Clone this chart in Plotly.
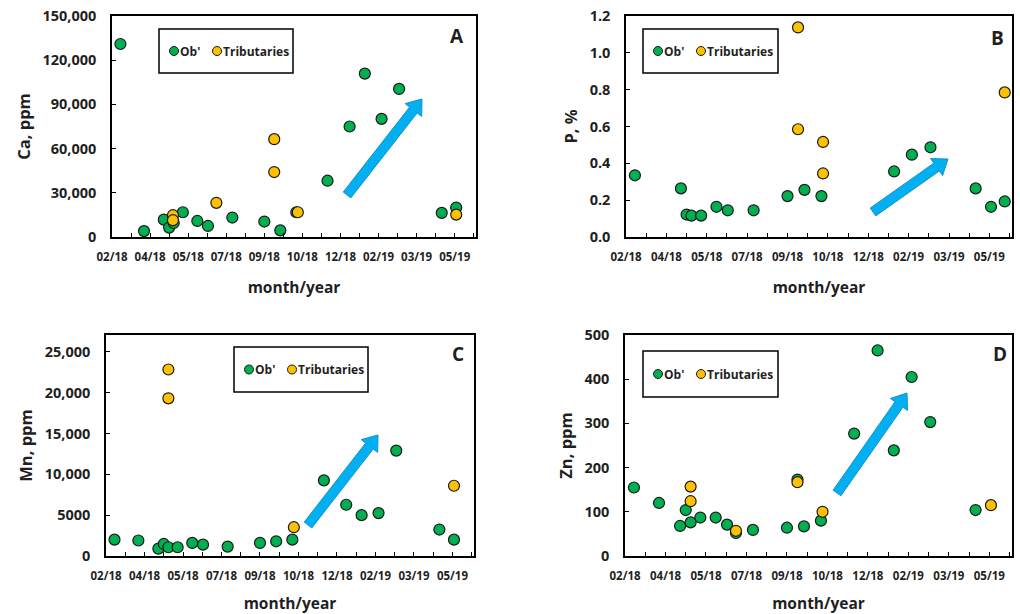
import plotly.graph_objects as go

W, H = 1020, 614
GREEN = "#00B050"
YELLOW = "#FFC000"
EDGE = "#1a1a1a"
ARROW_FILL = "#00B0F0"
ARROW_EDGE = "#1E8FD0"
TXT = "#1f1f1f"
FONT = "Open Sans"

# ---------------- data ----------------
# Panel A: Ca, ppm
ca_ob_dates = ["2018-03-02", "2018-04-02", "2018-04-28", "2018-05-05", "2018-05-11", "2018-05-23",
               "2018-06-11", "2018-06-25", "2018-07-27", "2018-09-07", "2018-09-28", "2018-10-19",
               "2018-11-29", "2018-12-28", "2019-01-17", "2019-02-08", "2019-03-03", "2019-04-28",
               "2019-05-17"]
ca_ob = [131000, 4000, 11800, 6400, 9500, 16800, 10900, 7500, 13200, 10500, 4500, 16800,
         38200, 75000, 110900, 80200, 100500, 16400, 20000]
ca_tr_dates = ["2018-05-10", "2018-05-10", "2018-07-06", "2018-09-20", "2018-09-20", "2018-10-21",
               "2019-05-17"]
ca_tr = [14800, 11400, 23200, 66400, 44100, 16800, 15200]

# Panel B: P, %
p_ob_dates = ["2018-03-02", "2018-04-28", "2018-05-05", "2018-05-11", "2018-05-23", "2018-06-11",
              "2018-06-25", "2018-07-27", "2018-09-07", "2018-09-28", "2018-10-19", "2019-01-17",
              "2019-02-08", "2019-03-03", "2019-04-28", "2019-05-17", "2019-06-03"]
p_ob = [0.335, 0.264, 0.122, 0.116, 0.116, 0.164, 0.145, 0.145, 0.222, 0.256, 0.222, 0.356,
        0.447, 0.487, 0.264, 0.164, 0.193]
p_tr_dates = ["2018-09-20", "2018-09-20", "2018-10-21", "2018-10-21", "2019-06-03"]
p_tr = [1.138, 0.585, 0.516, 0.345, 0.785]

# Panel C: Mn, ppm
mn_ob_dates = ["2018-03-02", "2018-04-02", "2018-04-28", "2018-05-05", "2018-05-11", "2018-05-23",
               "2018-06-11", "2018-06-25", "2018-07-27", "2018-09-07", "2018-09-28", "2018-10-19",
               "2018-11-29", "2018-12-28", "2019-01-17", "2019-02-08", "2019-03-03", "2019-04-28",
               "2019-05-17"]
mn_ob = [2000, 1900, 900, 1475, 1070, 1070, 1600, 1390, 1150, 1600, 1800, 2000,
         9260, 6270, 5000, 5250, 12900, 3240, 2000]
mn_tr_dates = ["2018-05-11", "2018-05-11", "2018-10-21", "2019-05-17"]
mn_tr = [22830, 19300, 3525, 8600]

# Panel D: Zn, ppm
zn_ob_dates = ["2018-03-02", "2018-04-02", "2018-04-28", "2018-05-05", "2018-05-11", "2018-05-23",
               "2018-06-11", "2018-06-25", "2018-07-06", "2018-07-27", "2018-09-07", "2018-09-20",
               "2018-09-28", "2018-10-19", "2018-11-29", "2018-12-28", "2019-01-17", "2019-02-08",
               "2019-03-03", "2019-04-28"]
zn_ob = [155, 120, 68, 104, 76, 87, 87, 71, 52, 59, 64, 173, 67, 80, 277, 465, 239, 405, 303, 104]
zn_tr_dates = ["2018-05-11", "2018-05-11", "2018-07-06", "2018-09-20", "2018-10-21", "2019-05-17"]
zn_tr = [157, 124, 57, 167, 100, 115]

series_names = ["Ob'", "Tributaries"]
y_titles = ["Ca, ppm", "P, %", "Mn, ppm", "Zn, ppm"]
panel_letters = ["A", "B", "C", "D"]
x_title = "month/year"
mn_tickvals = [0, 5000, 10000, 15000, 20000, 25000]
mn_ticktext = ["0", "5000", "10,000", "15,000", "20,000", "25,000"]

# ---------------- layout helpers ----------------
def px_x(v):
    return v / W

def px_y(v):
    return 1 - v / H

# plot boxes in pixels: (left, top, right, bottom)
boxes = [(112, 16, 476, 237), (626, 16, 1012, 237), (106, 335, 474, 556), (625, 335, 1012, 556)]
legend_boxes = [(159, 29, 293, 73), (643, 29, 778, 73), (234, 347, 368, 392), (643, 351, 778, 397)]
letter_pos = [(457, 36), (997, 38), (458, 354), (1000, 354)]
arrows = [((347, 195), (422, 99)), ((873, 212), (948, 159)),
          ((308, 525), (378, 435)), ((837, 493), (907, 393))]

y_ranges = [[0, 150000], [0, 1.2], [0, 27050], [0, 500]]
y_dticks = [30000, 0.2, 5000, 100]
y_formats = [",d", ".1f", None, "d"]

data = [
    (ca_ob_dates, ca_ob, ca_tr_dates, ca_tr),
    (p_ob_dates, p_ob, p_tr_dates, p_tr),
    (mn_ob_dates, mn_ob, mn_tr_dates, mn_tr),
    (zn_ob_dates, zn_ob, zn_tr_dates, zn_tr),
]

DAY_MS = 86400000
x_tick0 = "2018-02-19"
x_range = ["2018-02-18 23:00", "2019-06-12"]

fig = go.Figure()
shapes = []
annotations = []
layout = dict(
    width=W, height=H,
    margin=dict(l=0, r=0, t=0, b=0),
    paper_bgcolor="white", plot_bgcolor="white",
    showlegend=False,
    font=dict(family=FONT, color=TXT),
)

for i in range(4):
    sfx = "" if i == 0 else str(i + 1)
    xa, ya = "x" + sfx, "y" + sfx
    l, t, r, b = boxes[i]
    obx, oby, trx, try_ = data[i]
    fig.add_trace(go.Scatter(x=obx, y=oby, mode="markers", name=series_names[0],
                             xaxis=xa, yaxis=ya, cliponaxis=False,
                             marker=dict(size=11, color=GREEN, line=dict(color=EDGE, width=1.2))))
    fig.add_trace(go.Scatter(x=trx, y=try_, mode="markers", name=series_names[1],
                             xaxis=xa, yaxis=ya, cliponaxis=False,
                             marker=dict(size=11, color=YELLOW, line=dict(color=EDGE, width=1.2))))

    xaxis = dict(
        domain=[px_x(l), px_x(r)], anchor=ya, type="date", range=x_range,
        tick0=x_tick0, dtick=50 * DAY_MS, tickformat="%m/%y",
        ticks="inside", ticklen=4, tickwidth=1, tickcolor="black",
        minor=dict(ticks="inside", ticklen=4, tickwidth=1, tickcolor="black",
                   tick0=x_tick0, dtick=25 * DAY_MS),
        showline=True, linecolor="black", linewidth=1.5, mirror=True,
        showgrid=False, zeroline=False, automargin=False,
        tickfont=dict(family=FONT, size=11.5, color=TXT, weight="bold"),
        ticklabelstandoff=8,
        title=dict(text=x_title, standoff=20,
                   font=dict(family=FONT, size=15.5, color=TXT, weight="bold")),
    )
    yaxis = dict(
        domain=[px_y(b), px_y(t)], anchor=xa, range=y_ranges[i],
        tick0=0, dtick=y_dticks[i],
        ticks="inside", ticklen=4, tickwidth=1, tickcolor="black",
        showline=True, linecolor="black", linewidth=1.5, mirror=True,
        showgrid=False, zeroline=False, automargin=False,
        tickfont=dict(family=FONT, size=14.5, color=TXT, weight="bold"),
        ticklabelstandoff=11,
        title=dict(text=y_titles[i], standoff=8,
                   font=dict(family=FONT, size=16.5, color=TXT, weight="bold")),
    )
    if y_formats[i]:
        yaxis["tickformat"] = y_formats[i]
    else:
        yaxis["tickmode"] = "array"
        yaxis["tickvals"] = mn_tickvals
        yaxis["ticktext"] = mn_ticktext
    layout["xaxis" + sfx] = xaxis
    layout["yaxis" + sfx] = yaxis

    # panel letter
    lx, ly = letter_pos[i]
    annotations.append(dict(x=px_x(lx), y=px_y(ly), xref="paper", yref="paper",
                            text="<b>%s</b>" % panel_letters[i], showarrow=False,
                            font=dict(family=FONT, size=19, color=TXT),
                            xanchor="center", yanchor="middle"))

    # legend box
    bx0, by0, bx1, by1 = legend_boxes[i]
    shapes.append(dict(type="rect", xref="paper", yref="paper",
                       x0=px_x(bx0), x1=px_x(bx1), y0=px_y(by1), y1=px_y(by0),
                       line=dict(color="black", width=1.5), fillcolor="white", layer="below"))
    cy = (by0 + by1) / 2
    for cx_off, tx_off, col, name in [(15, 19, GREEN, series_names[0]),
                                     (58, 62, YELLOW, series_names[1])]:
        cx = bx0 + cx_off
        rr = 4.5
        shapes.append(dict(type="circle", xref="paper", yref="paper",
                           x0=px_x(cx - rr), x1=px_x(cx + rr), y0=px_y(cy + rr), y1=px_y(cy - rr),
                           fillcolor=col, line=dict(color=EDGE, width=1)))
        annotations.append(dict(x=px_x(bx0 + tx_off), y=px_y(cy), xref="paper", yref="paper",
                                text="<b>%s</b>" % name, showarrow=False,
                                font=dict(family=FONT, size=12, color=TXT),
                                xanchor="left", yanchor="middle"))

    # trend arrow (decoration)
    (tx, ty), (hx, hy) = arrows[i]
    dx, dy = hx - tx, hy - ty
    ln = (dx * dx + dy * dy) ** 0.5
    ux, uy = dx / ln, dy / ln
    nx, ny = -uy, ux
    sw, hw, hl = 4.8, 10.5, 14
    bx, by = hx - ux * hl, hy - uy * hl
    pts = [
        (tx + nx * sw, ty + ny * sw),
        (bx + nx * sw, by + ny * sw),
        (bx + nx * hw, by + ny * hw),
        (hx, hy),
        (bx - nx * hw, by - ny * hw),
        (bx - nx * sw, by - ny * sw),
        (tx - nx * sw, ty - ny * sw),
    ]
    path = "M " + " L ".join("%.5f,%.5f" % (px_x(px), px_y(py)) for px, py in pts) + " Z"
    shapes.append(dict(type="path", xref="paper", yref="paper", path=path,
                       fillcolor=ARROW_FILL, line=dict(color=ARROW_EDGE, width=1)))

layout["shapes"] = shapes
layout["annotations"] = annotations
fig.update_layout(**layout)
fig.write_html("out.html")
